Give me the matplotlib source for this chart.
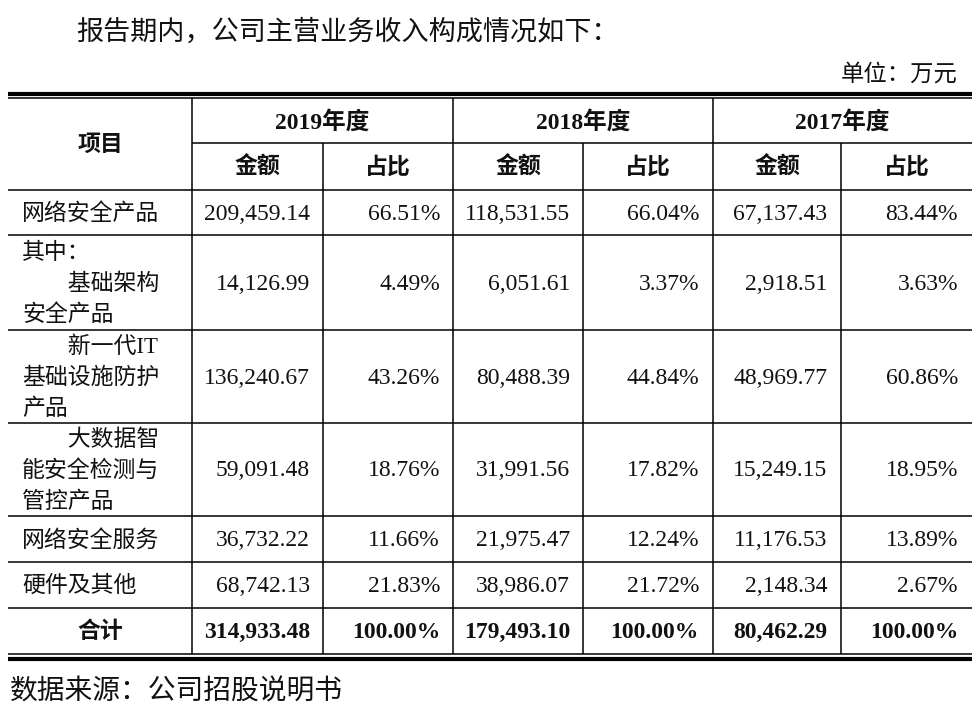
import matplotlib
matplotlib.use('Agg')
from matplotlib import pyplot as plt

# DATA
TITLE = '报告期内，公司主营业务收入构成情况如下：'
UNIT = '单位：万元'
SOURCE = '数据来源：公司招股说明书'
HEAD = '项目'
YEARS = ['2019年度', '2018年度', '2017年度']
SUBHEAD = ['金额', '占比']
ITEMS = ['网络安全产品',
         '其中：\n\u3000\u3000基础架构\n安全产品',
         '\u3000\u3000新一代IT\n基础设施防护\n产品',
         '\u3000\u3000大数据智\n能安全检测与\n管控产品',
         '网络安全服务',
         '硬件及其他',
         '合计']
AMT_2019 = [209459.14, 14126.99, 136240.67, 59091.48, 36732.22, 68742.13, 314933.48]
PCT_2019 = [66.51, 4.49, 43.26, 18.76, 11.66, 21.83, 100.00]
AMT_2018 = [118531.55, 6051.61, 80488.39, 31991.56, 21975.47, 38986.07, 179493.10]
PCT_2018 = [66.04, 3.37, 44.84, 17.82, 12.24, 21.72, 100.00]
AMT_2017 = [67137.43, 2918.51, 48969.77, 15249.15, 11176.53, 2148.34, 80462.29]
PCT_2017 = [83.44, 3.63, 60.86, 18.95, 13.89, 2.67, 100.00]

# LAYOUT (pixels)
W, H = 978, 720
FONT = ['Liberation Serif', 'Noto Sans CJK SC']
COLX = [8, 192, 323, 453, 583, 713, 841, 972]
ROWY = [190, 235, 330, 423, 516, 562, 608, 654]
TOP, MID = 97.5, 143
AMT_R = (310, 570, 827)
PCT_R = (440, 699, 958)
LSTEP = 31
FS = 16.5
LW = 1.1
DY = 1.5  # text sits a touch low in the cells

fig = plt.figure(figsize=(W/100, H/100), dpi=100)
ax = fig.add_axes((0, 0, 1, 1))
ax.set_xlim(0, W)
ax.set_ylim(H, 0)
ax.axis('off')

def txt(x, y, s, ha='left', bold=False, size=FS):
    ax.text(x, y + DY, s, ha=ha, va='center', family=FONT, fontsize=size,
            fontweight='bold' if bold else 'normal', color='#111111')

# texts outside table
txt(76, 31, TITLE, size=19.5)
txt(958, 73, UNIT, ha='right', size=16.8)
txt(10, 691, SOURCE, size=20)

# rules
k = dict(color='black', solid_capstyle='butt')
ax.plot([COLX[0], COLX[-1]], [93.5, 93.5], lw=3, **k)
ax.plot([COLX[0], COLX[-1]], [TOP, TOP], lw=LW, **k)
ax.plot([COLX[0], COLX[-1]], [ROWY[-1], ROWY[-1]], lw=LW, **k)
ax.plot([COLX[0], COLX[-1]], [658.5, 658.5], lw=3, **k)
ax.plot([COLX[1], COLX[-1]], [MID, MID], lw=LW, **k)
for y in ROWY[:-1]:
    ax.plot([COLX[0], COLX[-1]], [y, y], lw=LW, **k)
for i, x in enumerate(COLX[1:-1]):
    y0 = TOP if i % 2 == 0 else MID
    ax.plot([x, x], [y0, ROWY[-1]], lw=LW, **k)

# header
txt((COLX[0] + COLX[1]) / 2, (TOP + ROWY[0]) / 2, HEAD, ha='center', bold=True)
for j, yr in enumerate(YEARS):
    txt((COLX[1+2*j] + COLX[3+2*j]) / 2, (TOP + MID) / 2 + 1, yr, ha='center', bold=True, size=17)
    for m, s in enumerate(SUBHEAD):
        txt((COLX[1+2*j+m] + COLX[2+2*j+m]) / 2, (MID + ROWY[0]) / 2, s, ha='center', bold=True)

# body
amts = (AMT_2019, AMT_2018, AMT_2017)
pcts = (PCT_2019, PCT_2018, PCT_2017)
last = len(ITEMS) - 1
for i, item in enumerate(ITEMS):
    yc = (ROWY[i] + ROWY[i+1]) / 2
    bold = i == last
    if bold:
        txt((COLX[0] + COLX[1]) / 2, yc, item, ha='center', bold=True)
    else:
        lines = item.split('\n')
        for n, s in enumerate(lines):
            txt(22, yc + (n - (len(lines) - 1) / 2) * LSTEP, s)
    for j in range(3):
        txt(AMT_R[j], yc, f'{amts[j][i]:,.2f}', ha='right', bold=bold, size=17)
        txt(PCT_R[j], yc, f'{pcts[j][i]:.2f}%', ha='right', bold=bold, size=17)

fig.savefig('out.png', dpi=100, facecolor='white')
